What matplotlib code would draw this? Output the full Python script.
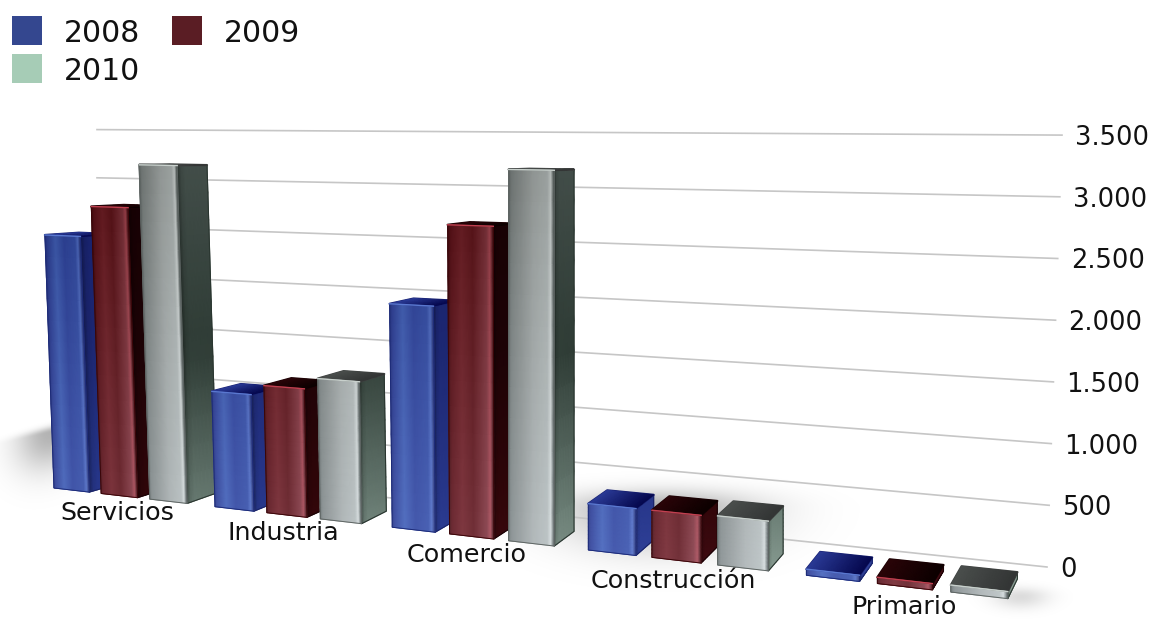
import numpy as np
import matplotlib
matplotlib.use('Agg')
import matplotlib.pyplot as plt
from matplotlib.colors import to_rgb

categories = ['Servicios', 'Industria', 'Comercio', 'Construcción', 'Primario']
years = ['2008', '2009', '2010']
values_2008 = [2530, 1100, 2030, 400, 50]
values_2009 = [2830, 1195, 2765, 400, 50]
values_2010 = [3250, 1300, 3270, 410, 55]
ticks = [0, 500, 1000, 1500, 2000, 2500, 3000, 3500]
tick_labels = ['0', '500', '1.000', '1.500', '2.000', '2.500', '3.000', '3.500']

# legend colours
legend_colors = ['#34478f', '#5a1d24', '#a6ccb6']

# horizontal shading of the front faces
stops = [0, .06, .3, .55, .85, .93, 1]
front_colors = [
    ['#1d2b78', '#27388f', '#3a58ae', '#2a3f98', '#2f48a0', '#4a66bc', '#1a2468'],
    ['#3a0508', '#560c12', '#6a1a20', '#5a1015', '#7a2e36', '#a0404a', '#320508'],
    ['#5e6563', '#7c8381', '#8f9593', '#a3a9a7', '#aeb5b3', '#cdd3d1', '#3a4340'],
]
side_colors = [
    ['#151d60', '#1a2468', '#24327e', '#2c3c8c'],
    ['#140103', '#1a0205', '#2c0508', '#3a0a10'],
    ['#3c4642', '#2a3630', '#5d6e66', '#7a8c83'],
]
top_colors = [('#2a3a95', '#05084e'), ('#2a0408', '#0c0000'), ('#4a4e4c', '#333535')]
edge_colors = ['#5a78d0', '#c04050', '#c8d0cc']
wash = np.array(to_rgb('#9aa0b0'))


# position along the floor, depth and value to picture pixels
def project(u, d, v):
    den = 1 - 0.01043 * u
    x0 = 54 + 35 * u / den
    y0 = 488 + 0.116 * (x0 - 54)
    h = v * 0.1 / den
    tilt = 0.036 * (1 - np.clip(u / 11.44, 0, 1) ** 1.5)
    x = x0 - tilt * h
    y = y0 - h
    dx = 34 - 1.15 * u
    dy = -(y - 150) * (0.027 + 0.0008 * u)
    return x + d * dx, y + d * dy


# the gridlines live on the back wall
def grid_y(v):
    return 467 - 0.0964 * v, 567 - 0.1234 * v


def rgb_list(names):
    return np.array([to_rgb(c) for c in names])


def mesh(ax, X, Y, C, z):
    ax.pcolormesh(X, Y, np.clip(C, 0, 1), shading='gouraud', zorder=z)


def outline(ax, x, y, c, z, lw=0.8):
    ax.fill(x, y, fc='none', ec=c, lw=lw, zorder=z, joinstyle='round')


def draw_bar(ax, u, v, k, z):
    t = np.linspace(0, 1, 13)
    # side
    d = np.linspace(0, 1, 9)
    dd, tt = np.meshgrid(d, t)
    X, Y = project(u + 1, dd, v * tt)
    rgb = rgb_list(side_colors[k])
    C = np.dstack([np.interp(Y, [170, 350, 500, 570], rgb[:, i]) for i in range(3)])
    C = C * (0.75 + 0.35 * np.minimum(dd * 6, 1))[..., None]
    mesh(ax, X, Y, C, z)
    sx, sy = project(u + 1, np.array([0, 1, 1, 0]), np.array([0, 0, v, v]))
    outline(ax, sx, sy, rgb[1], z)

    # top
    ss, dd = np.meshgrid(np.linspace(0, 1, 11), np.linspace(0, 1, 4))
    X, Y = project(u + ss, dd, v)
    a, b = rgb_list(top_colors[k])
    C = a + (b - a) * ss[..., None]
    px, py = project(u + np.array([0, 1, 1, 0]), np.array([0, 0, 1, 1]), v)
    ax.fill(px, py, fc=b, ec=(a + b) / 2, lw=1.6, zorder=z + 0.05, joinstyle='round')
    mesh(ax, X, Y, C, z + 0.1)

    # front
    ss, tt = np.meshgrid(np.linspace(0, 1, 41), t)
    X, Y = project(u + ss, 0, v * tt)
    rgb = rgb_list(front_colors[k])
    C = np.dstack([np.interp(ss, stops, rgb[:, i]) for i in range(3)])
    tb = np.clip((Y - 170) / 390, 0, 1)[..., None]
    C = C * (0.88 + 0.27 * tb)
    C = C + (wash - C) * 0.22 * tb
    mesh(ax, X, Y, C, z + 0.2)
    fx, fy = project(u + np.array([0, 1, 1, 0]), 0, np.array([0, 0, v, v]))
    outline(ax, fx, fy, rgb[0], z + 0.2, 0.7)
    ex, ey = project(u + np.array([0, 1]), 0, v)
    ax.plot(ex, ey, color=edge_colors[k], lw=1.0, zorder=z + 0.3)


def blob(xx, yy, cx, cy, sx, up, down, a):
    dy = yy - cy
    sy = np.where(dy < 0, up, down)
    return a * np.exp(-((xx - cx) / sx) ** 2 - (dy / sy) ** 2)


fig = plt.figure(figsize=(11.51, 6.19), dpi=100)
ax = fig.add_axes([0, 0, 1, 1])

# soft shadows on the floor
yy, xx = np.mgrid[0:619, 0:1151]
alpha = blob(xx, yy, 50, 432 + (50 - xx) * 0.25, 34, 6, 36, 0.30)
alpha += blob(xx, yy, 660, 508, 95, 18, 40, 0.32)
alpha += blob(xx, yy, 1020, 596, 28, 9, 12, 0.14)
shadow = np.zeros((619, 1151, 4))
shadow[..., 3] = np.clip(alpha, 0, 1)
ax.imshow(shadow, extent=[0, 1151, 619, 0], aspect='auto', zorder=0)

# grid and value labels
for v, lab in zip(ticks, tick_labels):
    yl, yr = grid_y(v)
    xr = 1047 + 15 * v / 3500
    ax.plot([97, xr], [yl, yr], color='#c6c6c6', lw=1.2, zorder=1)
    ax.text(xr + 13, yr + 3, lab, fontsize=18.5, color='#111111', va='center', ha='left', zorder=50)

series = [values_2008, values_2009, values_2010]
z = 2
for g in range(len(categories)):
    for k in range(3):
        draw_bar(ax, g * 4.39 + k * 1.33, series[k][g], k, z)
        z += 1

label_x = [117, 283, 467, 673, 904]
label_y = [513, 533, 555, 581, 607]
for name, x, y in zip(categories, label_x, label_y):
    ax.text(x, y, name, fontsize=18.3, color='#111111', ha='center', va='center', zorder=50)

# legend
legend_x = [12, 172, 12]
legend_y = [16, 16, 54]
for year, c, x, y in zip(years, legend_colors, legend_x, legend_y):
    ax.fill([x, x + 30, x + 30, x], [y, y, y + 29, y + 29], color=c, lw=0, zorder=50)
    ax.text(x + 52, y + 17, year, fontsize=21.5, color='#111111', ha='left', va='center', zorder=50)

ax.set_xlim(0, 1151)
ax.set_ylim(619, 0)
ax.axis('off')
fig.savefig('out.png', dpi=100, facecolor='white')
